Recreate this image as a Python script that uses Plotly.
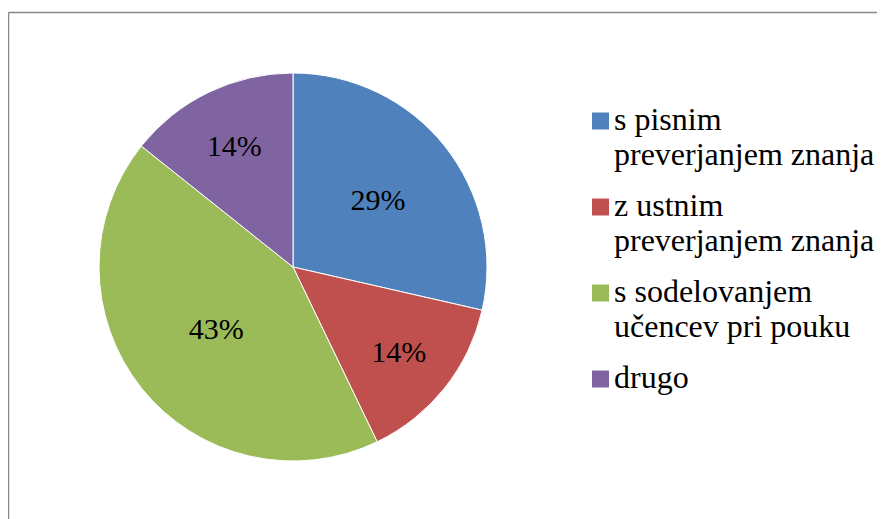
import plotly.graph_objects as go

# Data
categories = ["s pisnim preverjanjem znanja", "z ustnim preverjanjem znanja",
              "s sodelovanjem učencev pri pouku", "drugo"]
legend_lines = [["s pisnim", "preverjanjem znanja"],
                ["z ustnim", "preverjanjem znanja"],
                ["s sodelovanjem", "učencev pri pouku"],
                ["drugo"]]
values = [2, 1, 3, 1]
colors = ["#4F81BD", "#C0504D", "#9BBB59", "#8064A2"]

W, H = 885, 519
OFF = 8  # page body margin
FONT = "Liberation Serif"


def px(sx):
    return (sx - OFF) / W


def py(sy):
    return 1 - (sy - OFF) / H


cx, cy, r = 293, 267, 194

fig = go.Figure(go.Pie(
    labels=categories,
    values=values,
    sort=False,
    direction="clockwise",
    rotation=0,
    marker=dict(colors=colors, line=dict(color="white", width=1)),
    texttemplate="%{percent:.0%}",
    textposition="inside",
    insidetextorientation="horizontal",
    textfont=dict(family=FONT, size=30, color="black"),
    hoverinfo="label+percent",
    showlegend=False,
    domain=dict(x=[px(cx - r), px(cx + r)], y=[py(cy + r), py(cy - r)]),
))

shapes = [dict(type="line", xref="paper", yref="paper",
               x0=px(8.5), x1=1.05, y0=py(12.5), y1=py(12.5),
               line=dict(color="#868686", width=1.5)),
          dict(type="line", xref="paper", yref="paper",
               x0=px(8.5), x1=px(8.5), y0=py(12.5), y1=-0.05,
               line=dict(color="#868686", width=1.5))]
annotations = []

y = 121
line_h = 35
gap = 51
for lines, col in zip(legend_lines, colors):
    shapes.append(dict(type="rect", xref="paper", yref="paper",
                       x0=px(592), x1=px(609), y0=py(y - 8.5), y1=py(y + 8.5),
                       fillcolor=col, line=dict(width=0)))
    for k, t in enumerate(lines):
        annotations.append(dict(xref="paper", yref="paper", x=px(612), y=py(y + k * line_h - 2),
                                xanchor="left", yanchor="middle", text=t, showarrow=False,
                                font=dict(family=FONT, size=32, color="black")))
    y += (len(lines) - 1) * line_h + gap

fig.update_layout(
    width=W, height=H,
    margin=dict(l=0, r=0, t=0, b=0),
    paper_bgcolor="white",
    plot_bgcolor="white",
    shapes=shapes,
    annotations=annotations,
)

fig.write_html("out.html")
